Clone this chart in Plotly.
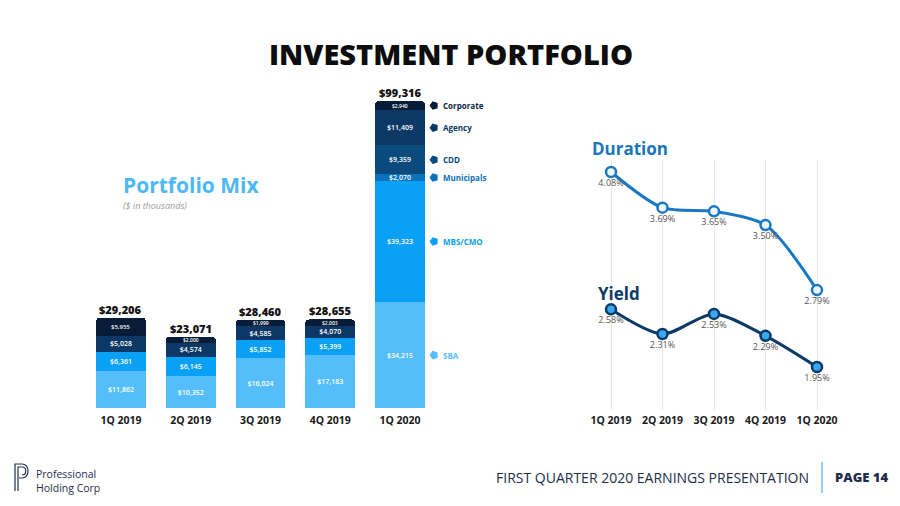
import plotly.graph_objects as go

# ---------------- data ----------------
quarters = ["1Q 2019", "2Q 2019", "3Q 2019", "4Q 2019", "1Q 2020"]
categories = ["SBA", "MBS/CMO", "Municipals", "CDD", "Agency", "Corporate"]
sba = [11862, 10352, 16024, 17183, 34215]
mbs_cmo = [6361, 6145, 5852, 5399, 39323]
municipals = [None, None, None, None, 2070]
cdd = [None, None, None, None, 9359]
agency = [5028, 4574, 4585, 4070, 11409]
corporate = [5955, 2000, 1999, 2003, 2940]
totals = [29206, 23071, 28460, 28655, 99316]

duration = [4.08, 3.69, 3.65, 3.50, 2.79]
yield_pct = [2.58, 2.31, 2.53, 2.29, 1.95]

colors = {
    "SBA": "#56bdfb",
    "MBS/CMO": "#0aa0f5",
    "Municipals": "#0a72bb",
    "CDD": "#0a4a7c",
    "Agency": "#0b3864",
    "Corporate": "#071c38",
}
legend_text_colors = {
    "SBA": "#56bdfb",
    "MBS/CMO": "#0aa0f5",
    "Municipals": "#0a72bb",
    "CDD": "#0a4a7c",
    "Agency": "#0b3864",
    "Corporate": "#0b2545",
}

FONT = "Open Sans"
W, H = 900, 506


def px(x):
    return x / W


def py(y):
    return 1 - y / H


series = {
    "SBA": sba,
    "MBS/CMO": mbs_cmo,
    "Municipals": municipals,
    "CDD": cdd,
    "Agency": agency,
    "Corporate": corporate,
}

xs = list(range(len(quarters)))
fig = go.Figure()
annotations = []

base = [0] * len(quarters)
for name in categories:
    vals = series[name]
    top_segment = name == "Corporate"
    fig.add_trace(go.Bar(
        x=xs, y=vals, name=name,
        marker=dict(color=colors[name], line=dict(width=0)),
        text=[("$" + f"{v:,}") if (v and not top_segment) else "" for v in vals],
        textposition="inside", insidetextanchor="middle", constraintext="none",
        textfont=dict(family=FONT, size=7, color="white", weight=600),
        xaxis="x", yaxis="y", showlegend=False, hoverinfo="skip",
    ))
    if top_segment:
        # labels of the rounded top segment drawn as annotations
        for i, v in enumerate(vals):
            if v:
                annotations.append(dict(
                    x=i, y=base[i] + v / 2, xref="x", yref="y",
                    text="$" + f"{v:,}", showarrow=False,
                    xanchor="center", yanchor="middle",
                    font=dict(family=FONT, size=6 if v > 5000 else 5,
                              color="white", weight=600),
                ))
    base = [b + (v or 0) for b, v in zip(base, vals)]

# legend icons and labels to the right of the last bar
last = len(quarters) - 1
cum = 0
mids = []
for name in categories:
    v = series[name][last] or 0
    mids.append(cum + v / 2)
    cum += v

fig.add_trace(go.Scatter(
    x=[last + 0.487] * len(categories), y=mids, mode="markers",
    marker=dict(symbol="pentagon", angle=270, size=9,
                color=[colors[c] for c in categories]),
    xaxis="x", yaxis="y", showlegend=False, cliponaxis=False, hoverinfo="skip",
))

for name, m in zip(categories, mids):
    annotations.append(dict(
        x=px(441), y=m, xref="paper", yref="y", text=name, showarrow=False,
        xanchor="left", yanchor="middle",
        font=dict(family=FONT, size=8, color=legend_text_colors[name], weight=700),
    ))

for i, t in enumerate(totals):
    annotations.append(dict(
        x=i, y=t, xref="x", yref="y", text="$" + f"{t:,}", showarrow=False,
        xanchor="center", yanchor="bottom", yshift=-1,
        font=dict(family=FONT, size=11, color="#111111", weight=800),
    ))

# line chart
fig.add_trace(go.Scatter(
    x=xs, y=duration, mode="lines+markers+text", name="Duration",
    line=dict(color="#1a78c2", width=3, shape="spline", smoothing=0.8),
    marker=dict(size=10, color="#eaf5fd", line=dict(color="#1a78c2", width=2.5)),
    text=[f"{v:.2f}%" for v in duration], textposition="bottom center",
    textfont=dict(family=FONT, size=9, color="#555555"),
    xaxis="x2", yaxis="y2", showlegend=False, cliponaxis=False, hoverinfo="skip",
))
fig.add_trace(go.Scatter(
    x=xs, y=yield_pct, mode="lines+markers+text", name="Yield",
    line=dict(color="#0b3a66", width=3, shape="spline", smoothing=0.8),
    marker=dict(size=10, color="#3aa8ee", line=dict(color="#0b3a66", width=2.5)),
    text=[f"{v:.2f}%" for v in yield_pct], textposition="bottom center",
    textfont=dict(family=FONT, size=9, color="#555555"),
    xaxis="x2", yaxis="y2", showlegend=False, cliponaxis=False, hoverinfo="skip",
))

# text elements
annotations += [
    dict(x=px(451), y=py(53), xref="paper", yref="paper", text="INVESTMENT PORTFOLIO",
         showarrow=False, xanchor="center", yanchor="middle",
         font=dict(family=FONT, size=29, color="#0d0d0d", weight=800)),
    dict(x=px(121), y=py(185), xref="paper", yref="paper", text="Portfolio Mix",
         showarrow=False, xanchor="left", yanchor="middle",
         font=dict(family=FONT, size=21, color="#4db8f5", weight=700)),
    dict(x=px(121), y=py(205), xref="paper", yref="paper", text="<i>($ in thousands)</i>",
         showarrow=False, xanchor="left", yanchor="middle",
         font=dict(family=FONT, size=9, color="#9a9a9a")),
    dict(x=px(590), y=py(148), xref="paper", yref="paper", text="Duration",
         showarrow=False, xanchor="left", yanchor="middle",
         font=dict(family=FONT, size=17, color="#1b75bb", weight=700)),
    dict(x=px(596), y=py(293), xref="paper", yref="paper", text="Yield",
         showarrow=False, xanchor="left", yanchor="middle",
         font=dict(family=FONT, size=17, color="#0d3b66", weight=700)),
    dict(x=px(811), y=py(477), xref="paper", yref="paper",
         text="FIRST QUARTER 2020 EARNINGS PRESENTATION",
         showarrow=False, xanchor="right", yanchor="middle",
         font=dict(family=FONT, size=14, color="#1e2d4a")),
    dict(x=px(833), y=py(477), xref="paper", yref="paper", text="PAGE 14",
         showarrow=False, xanchor="left", yanchor="middle",
         font=dict(family=FONT, size=13, color="#1e2d4a", weight=800)),
    dict(x=px(34), y=py(481), xref="paper", yref="paper",
         text="Professional<br>Holding Corp", align="left",
         showarrow=False, xanchor="left", yanchor="middle",
         font=dict(family=FONT, size=10.5, color="#1e3050")),
]

shapes = [
    dict(type="line", xref="paper", yref="paper", x0=px(822), x1=px(822),
         y0=py(462), y1=py(493), line=dict(color="#8fd0f5", width=2)),
    # logo (double-stroked P)
    dict(type="path", xref="paper", yref="paper",
         path=(f"M {px(15)},{py(491)} L {px(15)},{py(464)} L {px(22)},{py(464)} "
               f"C {px(30)},{py(464)} {px(30)},{py(478)} {px(22)},{py(478)} L {px(19)},{py(478)}"),
         line=dict(color="#1e3050", width=1.2)),
    dict(type="path", xref="paper", yref="paper",
         path=(f"M {px(18)},{py(491)} L {px(18)},{py(467)} L {px(22)},{py(467)} "
               f"C {px(27)},{py(467)} {px(27)},{py(475)} {px(22)},{py(475)}"),
         line=dict(color="#1e3050", width=1.2)),
]

px_per_unit = (408 - 101) / totals[-1]

fig.update_layout(
    width=W, height=H,
    margin=dict(l=0, r=0, t=0, b=0),
    paper_bgcolor="white", plot_bgcolor="white",
    barmode="stack", bargap=0.285, barcornerradius=4,
    font=dict(family=FONT),
    xaxis=dict(domain=[px(86.1), px(434.9)], range=[-0.5, 4.5],
               tickvals=xs, ticktext=quarters, showgrid=False, zeroline=False,
               showline=False, ticks="", anchor="y", ticklabelstandoff=4,
               tickfont=dict(family=FONT, size=10.5, color="#1a1a1a", weight=700)),
    yaxis=dict(domain=[py(408), py(90)], range=[0, (408 - 90) / px_per_unit],
               visible=False, anchor="x"),
    xaxis2=dict(domain=[px(580.1), px(847.9)], range=[-0.6, 4.6],
                tickvals=xs, ticktext=quarters, showgrid=True, gridcolor="#e6e6e6",
                gridwidth=1, zeroline=False, showline=False, ticks="", anchor="y2",
                ticklabelstandoff=2,
                tickfont=dict(family=FONT, size=10.5, color="#1a1a1a", weight=700)),
    yaxis2=dict(domain=[py(410), py(160)], range=[1.48, 4.211], visible=False,
                anchor="x2", showgrid=False, zeroline=False),
    annotations=annotations,
    shapes=shapes,
)

fig.write_html("out.html", config={"displayModeBar": False},
               post_script="document.body.style.margin='0';")
